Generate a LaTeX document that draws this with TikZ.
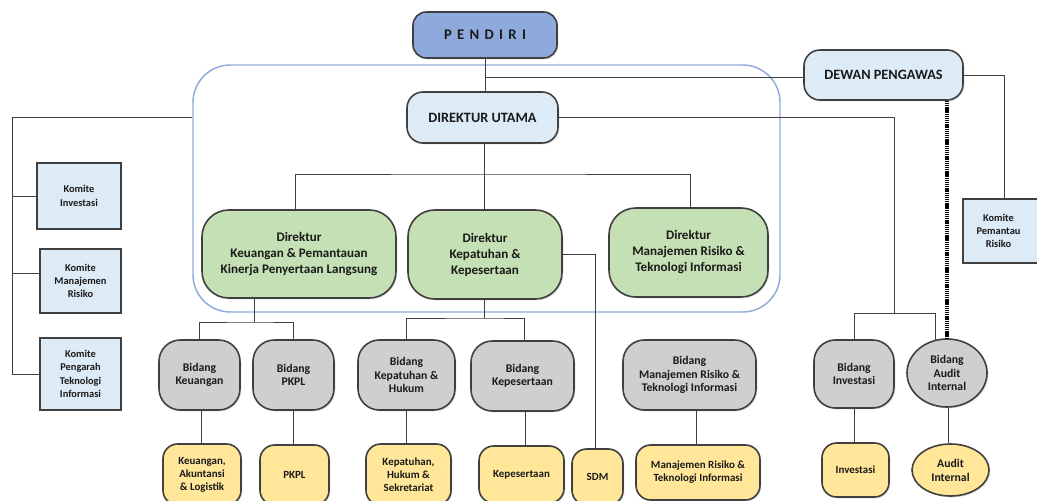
\documentclass[tikz,border=0pt]{standalone}
\usepackage{fontspec}
\setmainfont{Carlito}[BoldFont={Carlito Bold}]
\usetikzlibrary{shapes.geometric,shadows}
\definecolor{bord}{HTML}{404040}
\definecolor{pendfill}{HTML}{8EA9DB}
\definecolor{lightblue}{HTML}{DDEBF7}
\definecolor{greenfill}{HTML}{C5E0B4}
\definecolor{grayfill}{HTML}{D0CECE}
\definecolor{yellowfill}{HTML}{FFE699}
\definecolor{grpline}{HTML}{8FAADC}
\definecolor{txt}{HTML}{1A1A1A}
\newcommand\placenode[7]{\node[#6, minimum width={(#4-#2)*0.75pt}, minimum height={(#5-#3)*0.75pt}] (#1) at ({(#2+#4)/2},{(#3+#5)/2}) {#7};}
\tikzset{
  x=0.75pt, y=-0.75pt,
  base/.style={draw=bord, line width=1.2pt, text=txt, font=\bfseries, align=center, inner sep=1pt,
    drop shadow={shadow xshift=1pt, shadow yshift=-1pt, opacity=0.25}},
  pendbox/.style={base, fill=pendfill, rounded corners=10pt, font=\bfseries\fontsize{11}{13}\selectfont},
  topbox/.style={base, fill=lightblue, rounded corners=12pt, font=\bfseries\fontsize{10.7}{12.5}\selectfont},
  dirbox/.style={base, fill=greenfill, rounded corners=20pt, font=\bfseries\fontsize{9.8}{12}\selectfont},
  komite/.style={draw=bord, line width=2pt, fill=lightblue, text=txt, align=center, inner sep=1pt, font=\bfseries\fontsize{7.8}{10}\selectfont},
  bidbox/.style={base, fill=grayfill, rounded corners=16pt, font=\bfseries\fontsize{8.8}{10}\selectfont},
  bidell/.style={base, fill=grayfill, ellipse, font=\bfseries\fontsize{8.8}{10}\selectfont},
  unitbox/.style={base, fill=yellowfill, rounded corners=11pt, font=\bfseries\fontsize{8.2}{9.8}\selectfont},
  unitell/.style={base, fill=yellowfill, ellipse, font=\bfseries\fontsize{8.8}{10.5}\selectfont},
  grpbox/.style={draw=grpline, line width=1.1pt, rounded corners=28pt},
  conn/.style={draw=black!75, line width=0.6pt},
  dotline/.style={draw=black, line width=2.4pt, dash pattern=on 1pt off 0.6pt},
}
\begin{document}
\begin{tikzpicture}
\useasboundingbox (0,0) rectangle (1037,500);
\clip (0,0) rectangle (1037,500);
\fill[white] (0,0) rectangle (1037,500);

% container
\placenode{grp}{193}{65}{780}{312}{grpbox}{}

% nodes
\placenode{pendiri}{413}{12}{557}{58}{pendbox}{P\kern4pt E\kern4pt N\kern4pt D\kern4pt I\kern4pt R\kern4pt I}
\placenode{dewan}{804}{50}{963}{100}{topbox}{DEWAN PENGAWAS}
\placenode{du}{407}{92}{558}{143}{topbox}{DIREKTUR UTAMA}

\placenode{dk}{202}{210}{396}{298}{dirbox}{Direktur\\Keuangan \& Pemantauan\\Kinerja Penyertaan Langsung}
\placenode{dkp}{408}{210}{562}{299}{dirbox}{Direktur\\Kepatuhan \&\\Kepesertaan}
\placenode{dm}{609}{208}{768}{297}{dirbox}{Direktur\\Manajemen Risiko \&\\Teknologi Informasi}

\placenode{ki}{37}{163}{121}{229}{komite}{Komite\\Investasi}
\placenode{kmr}{40}{249}{121}{313}{komite}{Komite\\Manajemen\\Risiko}
\placenode{kpti}{40}{338}{121}{410}{komite}{Komite\\Pengarah\\Teknologi\\Informasi}
\placenode{kpr}{963}{199}{1042}{263}{komite}{\hspace*{-6pt}Komite\\\hspace*{-6pt}Pemantau\\\hspace*{-6pt}Risiko}

\placenode{bk}{159}{340}{240}{410}{bidbox}{Bidang\\Keuangan}
\placenode{bp}{253}{340}{334}{410}{bidbox}{Bidang\\PKPL}
\placenode{bkh}{358}{340}{455}{410}{bidbox}{Bidang\\Kepatuhan \&\\Hukum}
\placenode{bks}{471}{341}{574}{411}{bidbox}{Bidang\\Kepesertaan}
\placenode{bmr}{623}{340}{756}{410}{bidbox}{Bidang\\Manajemen Risiko \&\\Teknologi Informasi}
\placenode{binv}{814}{340}{894}{408}{bidbox}{Bidang\\Investasi}
\placenode{baud}{907}{339}{987}{407}{bidell}{Bidang\\Audit\\Internal}

\placenode{yk}{163}{444}{241}{505}{unitbox}{Keuangan,\\Akuntansi\\\& Logistik}
\placenode{yp}{260}{445}{329}{505}{unitbox}{PKPL}
\placenode{ykh}{366}{444}{451}{505}{unitbox}{Kepatuhan,\\Hukum \&\\Sekretariat}
\placenode{yks}{479}{446}{564}{503}{unitbox}{Kepesertaan}
\placenode{sdm}{572}{449}{623}{505}{unitbox}{SDM}
\placenode{ymr}{636}{445}{760}{500}{unitbox}{Manajemen Risiko \&\\Teknologi Informasi}
\placenode{yinv}{822}{443}{889}{497}{unitbox}{Investasi}
\placenode{yaud}{912}{444}{989}{496}{unitell}{Audit\\Internal}

% junction coordinates
\coordinate (lt) at (12,117);
\coordinate (jd) at (484,174);
\coordinate (jr) at (894,313);
\coordinate (j1) at (254,322);
\coordinate (j2) at (484,318);

% connectors
\draw[conn] (pendiri.south) -- (pendiri.south |- du.north);
\draw[conn] (pendiri.south |- 0,77) -- (dewan.west |- 0,77);
\draw[conn] (dewan.east) -| (kpr.north -| 1004,0);
\draw[dotline] (dewan.south -| baud.north) -- (baud.north);
\draw[conn] (du.east) -| (jr);
\draw[conn] (binv.north) |- (baud.110 |- jr) -- (baud.110);

\draw[conn] (grp.west |- lt) -- (lt) |- (kpti.west);
\draw[conn] (lt |- ki.west) -- (ki.west);
\draw[conn] (lt |- 0,273) -- (kmr.west |- 0,273);

\draw[conn] (du.south -| jd) -- (jd);
\draw[conn] (dk.north -| 295,0) |- (jd) -| (dm.north -| 690,0);
\draw[conn] (dkp.north -| jd) -- (jd);

\draw[conn] (dk.south -| j1) -- (j1);
\draw[conn] (bk.north) |- (j1) -| (bp.north);
\draw[conn] (dkp.south -| j2) -- (j2);
\draw[conn] (bkh.north) |- (j2) -| (bks.north -| 524,0);
\draw[conn] (dkp.east) -| (sdm.north -| 595,0);
\draw[conn] (bmr.north -| 692,0) -- (bmr.north -| 692,0 |- dm.south);

\draw[conn] (yk.north -| 201,0) -- (bk.south -| 201,0);
\draw[conn] (yp.north -| 293,0) -- (bp.south -| 293,0);
\draw[conn] (ykh.north -| 406,0) -- (bkh.south -| 406,0);
\draw[conn] (yks.north -| 525,0) -- (bks.south -| 525,0);
\draw[conn] (ymr.north -| 696,0) -- (bmr.south -| 696,0);
\draw[conn] (yinv.north -| 854,0) -- (binv.south -| 854,0);
\draw[conn] (yaud.north -| 948,0) -- (baud.south -| 948,0);
\end{tikzpicture}
\end{document}
